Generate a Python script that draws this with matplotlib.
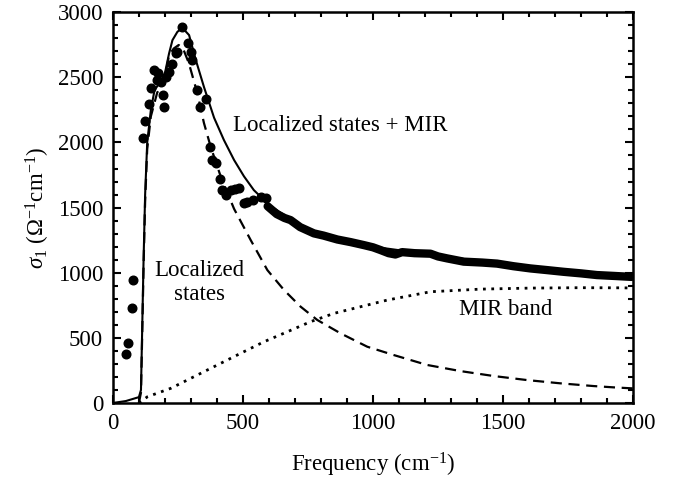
import matplotlib
matplotlib.use("Agg")
import matplotlib.pyplot as plt
from matplotlib.ticker import MultipleLocator

plt.rcParams['font.family'] = ['Liberation Serif', 'DejaVu Serif']
plt.rcParams['mathtext.fontset'] = 'custom'
plt.rcParams['mathtext.rm'] = 'Liberation Serif'
plt.rcParams['mathtext.it'] = 'Liberation Serif:italic'

# measured points below ~600 cm-1 (resolved dots)
dot_freq = [50, 60, 72, 79, 116, 124, 139, 148, 159, 171, 175, 184, 191, 197, 203,
            216, 229, 242, 248, 267, 287, 299, 303, 322, 335, 357, 374, 383, 395,
            411, 421, 434, 453, 470, 484, 504, 517, 537, 568, 587]
dot_sigma = [376, 463, 731, 944, 2031, 2164, 2294, 2415, 2555, 2478, 2530, 2465, 2363, 2273, 2503,
             2542, 2606, 2683, 2696, 2887, 2760, 2696, 2632, 2402, 2273, 2330, 1967, 1865, 1840,
             1716, 1634, 1596, 1634, 1640, 1647, 1532, 1545, 1558, 1583, 1570]

# measured points above ~600 cm-1 (dots merge into a thick band)
band_freq = [595, 630, 660, 683, 720, 773, 810, 863, 914, 965, 1000, 1029, 1060, 1086,
             1112, 1160, 1221, 1250, 1285, 1349, 1420, 1477, 1540, 1605, 1670, 1733,
             1800, 1861, 1930, 1995]
band_sigma = [1510, 1450, 1420, 1404, 1350, 1302, 1285, 1255, 1235, 1212, 1195, 1174, 1150, 1140,
              1158, 1150, 1146, 1125, 1110, 1085, 1078, 1070, 1050, 1033, 1020, 1007,
              995, 982, 975, 968]

# fit: localized states + MIR
fit_freq = [0, 50, 100, 108, 113, 118, 124, 132, 146, 160, 180, 197, 216, 229, 248, 267,
            293, 319, 350, 389, 427, 466, 504, 542, 575, 600, 700, 800, 1000, 1500, 2000]
fit_sigma = [0, 15, 45, 100, 600, 1100, 1600, 2000, 2250, 2400, 2460, 2503, 2683, 2785, 2849, 2880,
             2824, 2632, 2427, 2190, 2018, 1865, 1740, 1634, 1570, 1520, 1390, 1290, 1200, 1065, 968]

# localized states component
loc_freq = [100, 108, 113, 118, 124, 132, 146, 170, 200, 216, 234, 253, 270, 292, 325, 350,
            376, 415, 466, 530, 594, 658, 722, 786, 875, 978, 1080, 1208, 1336, 1464,
            1592, 1720, 1848, 1925, 2000]
loc_sigma = [0, 80, 550, 1050, 1550, 1950, 2200, 2380, 2500, 2670, 2721, 2748, 2720, 2609, 2376, 2150,
             1967, 1736, 1490, 1250, 1020, 867, 739, 637, 535, 432, 368, 292, 245, 207,
             176, 151, 130, 120, 112]

# MIR band component
mir_freq = [100, 133, 223, 312, 402, 491, 581, 671, 760, 850, 1055, 1221, 1413, 1605, 1797, 1962, 2000]
mir_sigma = [0, 48, 113, 202, 292, 381, 470, 547, 624, 688, 790, 854, 874, 882, 885, 884, 882]

fig = plt.figure(figsize=(6.8, 4.87), dpi=100)
ax = fig.add_axes([0.166, 0.1725, 0.765, 0.8025])

ax.plot(fit_freq, fit_sigma, color='black', lw=1.5)
ax.plot(loc_freq, loc_sigma, color='black', lw=1.6, linestyle=(0, (5, 3)))
ax.plot(mir_freq, mir_sigma, color='black', lw=2, linestyle=(0, (1, 2)))
ax.plot(dot_freq, dot_sigma, 'o', color='black', ms=6.2, mec='black')
ax.plot(band_freq, band_sigma, color='black', lw=6, solid_capstyle='round',
        solid_joinstyle='round')

ax.text(461, 2133, 'Localized states + MIR', fontsize=16.5, va='center', ha='left')
ax.text(334, 925, 'Localized\nstates', fontsize=16.5, va='center', ha='center',
        linespacing=1.15)
ax.text(1509, 714, 'MIR band', fontsize=16.5, va='center', ha='center')

ax.set_xlim(0, 2000)
ax.set_ylim(0, 3000)
ax.xaxis.set_major_locator(MultipleLocator(500))
ax.xaxis.set_minor_locator(MultipleLocator(100))
ax.yaxis.set_major_locator(MultipleLocator(500))
ax.yaxis.set_minor_locator(MultipleLocator(100))
ax.tick_params(which='both', direction='in', top=True, right=True, width=1.5,
               labelsize=16.5, pad=7)
ax.tick_params(which='major', length=6)
ax.tick_params(which='minor', length=3.5)
for sp in ax.spines.values():
    sp.set_linewidth(1.8)

ax.set_xlabel('Frequency (cm$^{-1}$)', fontsize=16.5, labelpad=12)
ax.set_ylabel(r'$\sigma_1$ ($\Omega^{-1}$cm$^{-1}$)', fontsize=16.5, labelpad=4)

fig.savefig('out.png', dpi=100)
